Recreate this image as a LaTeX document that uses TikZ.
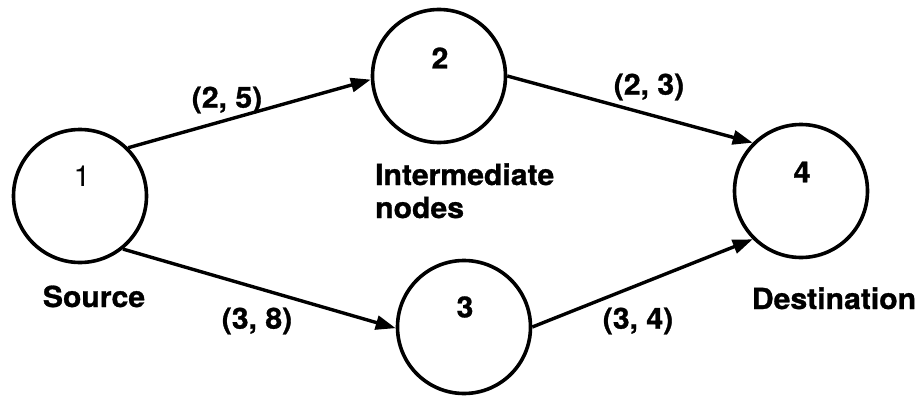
\documentclass[tikz,border=0pt]{standalone}
\usepackage{fontspec}
\setmainfont{TeX Gyre Heros}[FakeStretch=1.04,BoldFeatures={FakeBold=1}]
\usetikzlibrary{arrows.meta}
\begin{document}
\begin{tikzpicture}[x=1pt,y=-1pt,
  vertex/.style={circle,draw,line width=3.6pt,minimum size=133pt,inner sep=0pt},
  num/.style={font=\fontsize{29}{33}\selectfont\bfseries,inner sep=0pt},
  lbl/.style={font=\fontsize{29}{33}\selectfont\bfseries,inner sep=0pt},
  flow/.style={line width=3.4pt,-{Triangle[length=20pt,width=14pt]}}]
  \useasboundingbox (0,0) rectangle (916,396);
  % network nodes
  \node[vertex] (c1) at (80,196) {};
  \node[vertex] (c2) at (439,76) {};
  \node[vertex] (c3) at (464,327) {};
  \node[vertex] (c4) at (801,191) {};
  % node numbers
  \node[num,font=\fontsize{29}{33}\selectfont] (n1) at (82,176) {1};
  \node[num] (n2) at (440,58) {2};
  \node[num] (n3) at (465,307) {3};
  \node[num] (n4) at (802,172) {4};
  % arcs
  \draw[flow] (c1.45) -- (c2.183);
  \draw[flow] (c1.-51) -- (c3.181);
  \draw[flow] (c2.0) -- (c4.135);
  \draw[flow] (c3.0) -- (c4.225);
  % arc labels
  \node[lbl] (l12) at (227,100) {(2, 5)};
  \node[lbl] (l24) at (649,87) {(2, 3)};
  \node[lbl] (l13) at (257,321) {(3, 8)};
  \node[lbl] (l34) at (638,321) {(3, 4)};
  % descriptions
  \node[lbl,anchor=base] (src) at (94,307) {Source};
  \node[lbl,anchor=base west,align=left] (mid) at (375,218) {Intermediate\\nodes};
  \node[lbl,anchor=base] (dst) at (834,309) {Destination};
\end{tikzpicture}
\end{document}
